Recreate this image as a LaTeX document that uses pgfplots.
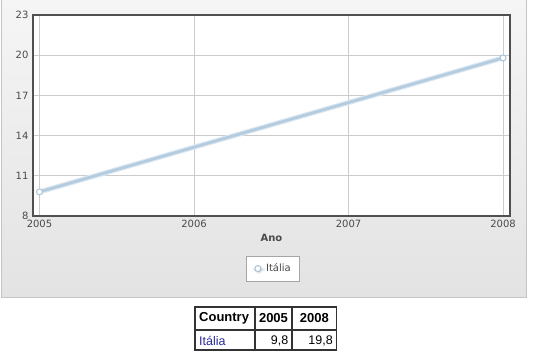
\documentclass[border=0pt]{standalone}
\usepackage{pgfplots}
\pgfplotsset{compat=1.18}
\usepackage{fontspec}
\setmainfont{DejaVu Sans}
\newfontfamily\tablefont{Liberation Sans}
\usetikzlibrary{shadows}
\definecolor{panelTop}{HTML}{F5F5F5}
\definecolor{panelBot}{HTML}{E3E3E3}
\definecolor{panelEdge}{HTML}{C4C4C4}
\definecolor{axisEdge}{HTML}{505050}
\definecolor{tickText}{HTML}{4A4A4A}
\definecolor{lineBlue}{HTML}{B4CCDF}
\definecolor{glowBlue}{HTML}{DCE7F0}
\definecolor{markBlue}{HTML}{A9C3D8}
\definecolor{linkBlue}{HTML}{2B2B96}
\definecolor{tabEdge}{HTML}{333333}
\begin{document}
\begin{tikzpicture}[x=1pt,y=1pt]
\path[use as bounding box, fill=white] (0,0) rectangle (536,357);
% panel
\shade[top color=panelTop, bottom color=panelBot] (1.5,60) rectangle (526.5,357);
\draw[panelEdge, line width=1pt] (1.5,357) -- (1.5,60) -- (526.5,60) -- (526.5,357);
\begin{axis}[
  at={(33pt,141pt)}, anchor=south west,
  scale only axis, width=477pt, height=201pt,
  xmin=2004.958, xmax=2008.045, ymin=8, ymax=23,
  xtick={2005,2006,2007,2008}, ytick={8,11,14,17,20,23},
  /pgf/number format/assume math mode=true,
  /pgf/number format/set thousands separator={},
  ticklabel style={font=\fontsize{10}{12}\selectfont, text=tickText},
  yticklabel style={xshift=-1pt},
  xticklabel style={yshift=-1pt},
  major tick length=0pt,
  xmajorgrids, ymajorgrids,
  major grid style={draw=gray!40, line width=0.7pt},
  axis line style={draw=axisEdge, line width=2pt},
  axis background/.style={fill=white},
  xlabel={\textbf{Ano}},
  xlabel style={font=\fontsize{10}{12}\selectfont, text=tickText, yshift=1pt},
  legend style={at={(0.502,-0.197)}, anchor=north, draw=gray!70, fill=white,
    font=\fontsize{10}{12}\selectfont, text=tickText, inner xsep=6pt, inner ysep=6pt,
    drop shadow={shadow xshift=1pt, shadow yshift=-1pt, opacity=0.25}},
  legend cell align=left,
]
\addplot[glowBlue, line width=5pt, forget plot] coordinates {(2005,9.8) (2008,19.8)};
\addplot[lineBlue, line width=2.8pt, mark=*, mark size=3pt,
  mark options={fill=white, draw=markBlue, line width=1pt},
  legend image code/.code={\path[draw=none] (0,0) -- (0.42cm,0);\draw[draw=markBlue, fill=white, line width=1pt] (0.2cm,0) circle (3pt);}]
  coordinates {(2005,9.8) (2008,19.8)};
\addlegendentry{Itália}
\end{axis}
% table
\draw[tabEdge, line width=1.2pt] (195,7) rectangle (336.5,50);
\draw[tabEdge, line width=1.2pt] (195,27) -- (336.5,27);
\draw[tabEdge, line width=1.2pt] (255,7) -- (255,50);
\draw[tabEdge, line width=1.2pt] (292,7) -- (292,50);
\node[anchor=west, font=\tablefont\fontsize{13}{15}\selectfont\bfseries, inner sep=0pt] at (199,38.5) {Country};
\node[font=\tablefont\fontsize{13}{15}\selectfont\bfseries, inner sep=0pt] at (273.5,38.5) {2005};
\node[font=\tablefont\fontsize{13}{15}\selectfont\bfseries, inner sep=0pt] at (314.3,38.5) {2008};
\node[anchor=west, font=\tablefont\fontsize{12.5}{15}\selectfont, text=linkBlue, inner sep=0pt] at (199,16.5) {Itália};
\node[anchor=east, font=\tablefont\fontsize{12.5}{15}\selectfont, inner sep=0pt] at (288.5,16.5) {9,8};
\node[anchor=east, font=\tablefont\fontsize{12.5}{15}\selectfont, inner sep=0pt] at (333,16.5) {19,8};
\end{tikzpicture}
\end{document}
